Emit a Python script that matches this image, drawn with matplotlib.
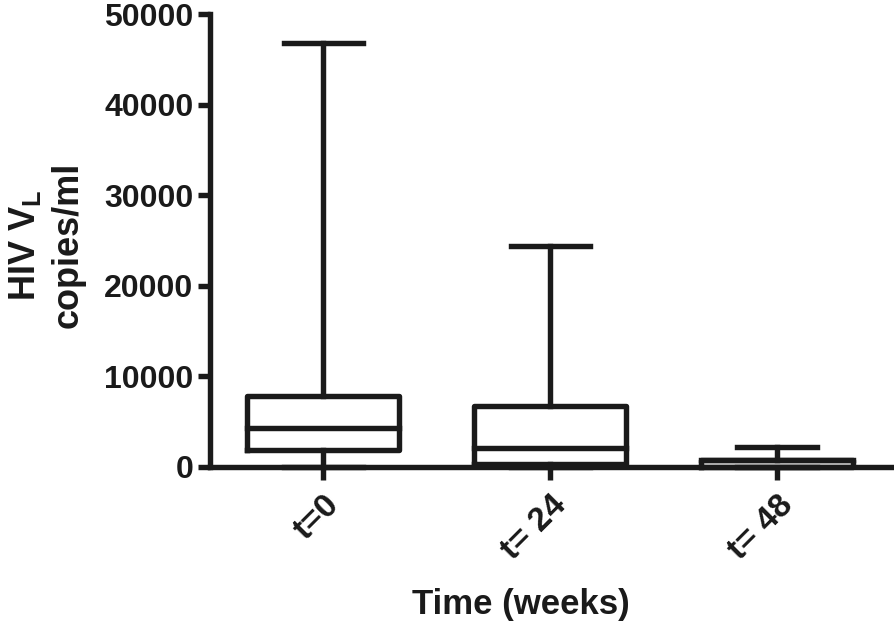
import matplotlib
matplotlib.use("Agg")
import matplotlib.pyplot as plt

categories = ["t=0", "t= 24", "t= 48"]
whislo = [50, 0, 0]
q1 = [1850, 350, 0]
median = [4300, 2150, 780]
q3 = [7850, 6750, 820]
whishi = [46800, 24400, 2250]

plt.rcParams['font.family'] = ['Liberation Sans', 'DejaVu Sans']
plt.rcParams['font.weight'] = 'bold'
plt.rcParams['mathtext.fontset'] = 'custom'
plt.rcParams['mathtext.rm'] = 'Liberation Sans:bold'
plt.rcParams['mathtext.it'] = 'Liberation Sans:bold'
plt.rcParams['mathtext.bf'] = 'Liberation Sans:bold'

fig = plt.figure(figsize=(8.94, 6.27), dpi=100)
ax = fig.add_axes([210/894, 1-467/627, 1-210/894, (467-14)/627])

stats = []
for i, c in enumerate(categories):
    stats.append(dict(label=c, whislo=whislo[i], q1=q1[i], med=median[i],
                      q3=q3[i], whishi=whishi[i], fliers=[]))

lw = 3.9
col = '#1a1a1a'
ax.bxp(stats, positions=range(len(categories)), widths=0.67, showfliers=False,
       boxprops=dict(linewidth=lw, color=col),
       medianprops=dict(linewidth=lw, color=col),
       whiskerprops=dict(linewidth=lw, color=col),
       capprops=dict(linewidth=lw, color=col),
       capwidths=0.35)

ax.set_xlim(-0.5, 2.515)
ax.set_ylim(0, 50000)
ax.set_yticks([0, 10000, 20000, 30000, 40000, 50000])
ax.spines['top'].set_visible(False)
ax.spines['right'].set_visible(False)
for s in ['left', 'bottom']:
    ax.spines[s].set_linewidth(lw)
    ax.spines[s].set_color(col)
ax.tick_params(axis='both', width=lw, length=9, color=col, labelsize=23, pad=3)
ax.tick_params(axis='x', pad=7)
ax.set_xticks(range(len(categories)))
ax.set_xticklabels(categories, rotation=45, ha='right', rotation_mode='anchor',
                   fontsize=24, fontweight='bold', color=col)
for lbl in ax.get_yticklabels():
    lbl.set_fontweight('bold')
    lbl.set_color(col)

ax.set_ylabel('HIV V$_\\mathrm{L}$\ncopies/ml', fontsize=26, fontweight='bold',
              color=col, linespacing=1.3)
ax.yaxis.set_label_coords((86-210)/684, 0.49)
ax.set_xlabel('Time (weeks)', fontsize=25, fontweight='bold', color=col)
ax.xaxis.set_label_coords((521-210)/684, -(588-467)/453)

for line in ax.lines:
    line.set_clip_on(False)
    line.set_solid_capstyle('projecting')

fig.savefig('out.png', dpi=100)
